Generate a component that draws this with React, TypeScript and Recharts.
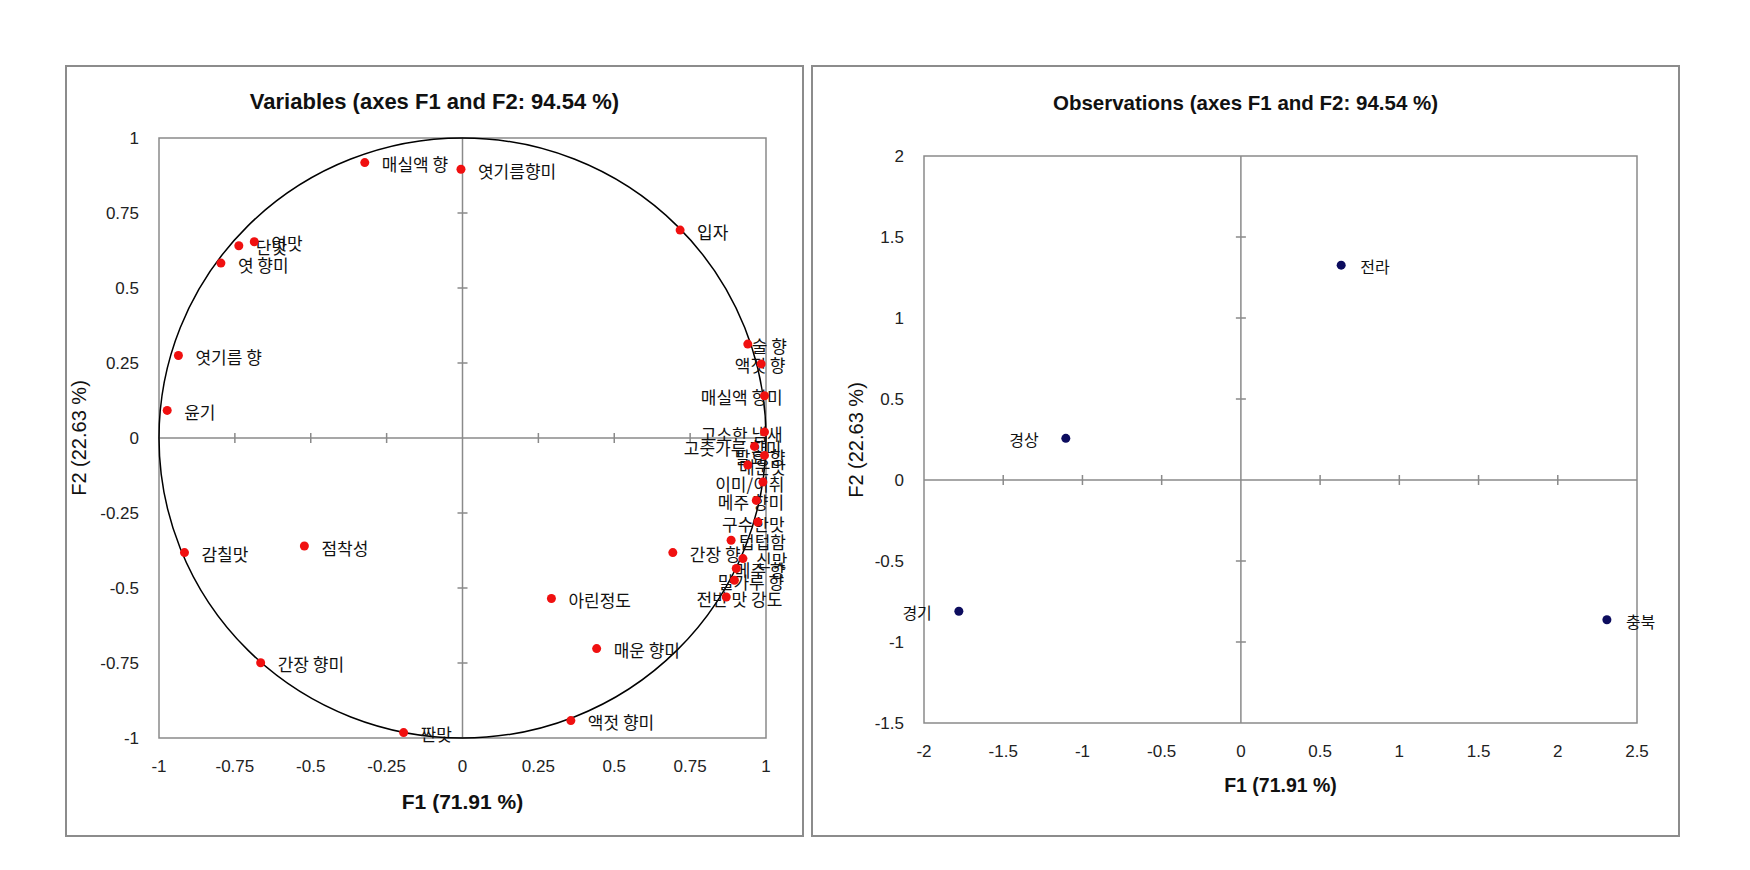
import React from 'react';
import {
  ScatterChart,
  Scatter,
  XAxis,
  YAxis,
  ReferenceLine,
  ReferenceArea,
  ReferenceDot,
} from 'recharts';

/* ---------- data: variables (F1 / F2 loadings) ---------- */

const VAR_NAMES = [
  '매실액 향', '엿기름향미', '입자', '엿맛', '단맛', '엿 향미', '엿기름 향', '윤기',
  '감칠맛', '점착성', '아린정도', '간장 향', '간장 향미', '짠맛', '액젓 향미', '매운 향미',
  '술 향', '액젓 향', '매실액 향미', '고소한 냄새', '고춧가루 향미', '발효 향', '매운맛',
  '이미/이취', '메주 향미', '구수한맛', '텁텁함', '신맛', '메주 향', '밀가루 향', '전반 맛 강도',
];
const VAR_F1 = [
  -0.322, -0.005, 0.717, -0.686, -0.737, -0.796, -0.936, -0.973,
  -0.916, -0.521, 0.293, 0.693, -0.665, -0.194, 0.357, 0.442,
  0.94, 0.984, 0.995, 0.995, 0.962, 0.995, 0.94,
  0.99, 0.968, 0.973, 0.885, 0.924, 0.902, 0.896, 0.869,
];
const VAR_F2 = [
  0.918, 0.896, 0.693, 0.654, 0.641, 0.583, 0.275, 0.092,
  -0.382, -0.36, -0.535, -0.382, -0.749, -0.982, -0.942, -0.702,
  0.313, 0.247, 0.141, 0.02, -0.028, -0.058, -0.09,
  -0.147, -0.208, -0.28, -0.341, -0.402, -0.435, -0.474, -0.53,
];

/* ---------- data: observations (F1 / F2 scores) ---------- */

const OBS_NAMES = ['경기', '경상', '전라', '충북'];
const OBS_F1 = [-1.78, -1.105, 0.633, 2.31];
const OBS_F2 = [-0.81, 0.257, 1.326, -0.863];
const OBS_LEFT_LABELS = ['경기', '경상'];

/* ---------- axes ---------- */

const VAR_TICKS = [-1, -0.75, -0.5, -0.25, 0, 0.25, 0.5, 0.75, 1];
const OBS_X_TICKS = [-2, -1.5, -1, -0.5, 0, 0.5, 1, 1.5, 2, 2.5];
const OBS_Y_TICKS = [-1.5, -1, -0.5, 0, 0.5, 1, 1.5, 2];

const varData = VAR_NAMES.map((name, i) => ({ name, x: VAR_F1[i], y: VAR_F2[i] }));
const obsData = OBS_NAMES.map((name, i) => ({ name, x: OBS_F1[i], y: OBS_F2[i] }));

/* ---------- styles ---------- */

const SANS = "'Liberation Sans', Arial, sans-serif";
const KR = "'Noto Sans CJK KR', 'Noto Sans', sans-serif";
const GRID = '#8a8a8a';
const TICK_PX = 5;
const YAXIS_W = 60;
const XAXIS_H = 40;

// rough text width for label placement (hangul = 1em)
const textWidth = (s: string, fs: number) =>
  [...s].reduce((w, ch) => {
    const c = ch.charCodeAt(0);
    if (c >= 0xac00 && c <= 0xd7a3) return w + fs;
    if (ch === ' ') return w + fs * 0.25;
    return w + fs * 0.4;
  }, 0);

interface Box { left: number; top: number; width: number; height: number }

interface PanelProps {
  box: Box;
  plot: Box; // relative to box
  title: string;
  titleY: number;
  titleSize: number;
  xTitleDy: number;
  yTitleDx: number;
  xTitleSize: number;
  tickSize: number;
  xDomain: [number, number];
  yDomain: [number, number];
  xTicks: number[];
  yTicks: number[];
  data: { name: string; x: number; y: number }[];
  label: (p: any) => React.ReactElement;
  dotColor: string;
  circle?: boolean;
}

function PcaPanel(props: PanelProps) {
  const {
    box, plot, title, titleY, titleSize, xTitleDy, yTitleDx, xTitleSize,
    tickSize, xDomain, yDomain, xTicks, yTicks, data, label, dotColor, circle,
  } = props;

  const unitX = plot.width / (xDomain[1] - xDomain[0]);
  const unitY = plot.height / (yDomain[1] - yDomain[0]);
  const dx = TICK_PX / unitX;
  const dy = TICK_PX / unitY;
  const inner = (v: number, d: [number, number]) => v !== 0 && v > d[0] && v < d[1];

  const plotCx = box.left + plot.left + plot.width / 2;
  const plotCy = box.top + plot.top + plot.height / 2;

  return (
    <>
      <div
        style={{
          position: 'absolute', left: box.left, top: box.top, width: box.width, height: box.height,
          border: '2px solid #8c8c8c', boxSizing: 'border-box',
        }}
      />
      {/* title */}
      <div
        style={{
          position: 'absolute', left: box.left, top: titleY - 15, width: box.width, lineHeight: '30px',
          textAlign: 'center', fontFamily: SANS, fontWeight: 700, fontSize: titleSize, color: '#111',
        }}
      >
        {title}
      </div>
      {/* x title */}
      <div
        style={{
          position: 'absolute', left: plotCx - 150, top: box.top + plot.top + plot.height + xTitleDy - 15,
          width: 300, lineHeight: '30px', textAlign: 'center', fontFamily: SANS, fontWeight: 700,
          fontSize: xTitleSize, color: '#111',
        }}
      >
        F1 (71.91 %)
      </div>
      {/* y title */}
      <div
        style={{
          position: 'absolute', left: box.left + plot.left - yTitleDx - 100, top: plotCy - 15,
          width: 200, lineHeight: '30px', textAlign: 'center', fontFamily: SANS, fontSize: 20,
          color: '#111', transform: 'rotate(-90deg)', transformOrigin: 'center center',
        }}
      >
        F2 (22.63 %)
      </div>

      <div style={{ position: 'absolute', left: box.left, top: box.top }}>
        <ScatterChart
          width={box.width}
          height={box.height}
          margin={{
            top: plot.top,
            left: plot.left - YAXIS_W,
            right: box.width - plot.left - plot.width,
            bottom: box.height - plot.top - plot.height - XAXIS_H,
          }}
        >
          <XAxis
            type="number"
            dataKey="x"
            domain={xDomain}
            ticks={xTicks}
            interval={0}
            height={XAXIS_H}
            axisLine={false}
            tickLine={false}
            tickSize={0}
            tickMargin={0}
            tick={(t: any) => (
              <text
                x={t.x}
                y={t.y + 28.5}
                textAnchor="middle"
                dominantBaseline="central"
                fontFamily={SANS}
                fontSize={tickSize}
                fill="#222"
              >
                {String(t.payload.value)}
              </text>
            )}
          />
          <YAxis
            type="number"
            dataKey="y"
            domain={yDomain}
            ticks={yTicks}
            interval={0}
            width={YAXIS_W}
            axisLine={false}
            tickLine={false}
            tickSize={0}
            tickMargin={0}
            tick={(t: any) => (
              <text
                x={t.x - 20}
                y={t.y}
                textAnchor="end"
                dominantBaseline="central"
                fontFamily={SANS}
                fontSize={tickSize}
                fill="#222"
              >
                {String(t.payload.value)}
              </text>
            )}
          />

          <ReferenceArea
            x1={xDomain[0]} x2={xDomain[1]} y1={yDomain[0]} y2={yDomain[1]}
            fill="none" fillOpacity={0} stroke={GRID} strokeWidth={1.5}
          />
          <ReferenceLine x={0} stroke={GRID} strokeWidth={1.5} />
          <ReferenceLine y={0} stroke={GRID} strokeWidth={1.5} />
          {xTicks.filter(v => inner(v, xDomain)).map(v => (
            <ReferenceLine
              key={`xt${v}`}
              segment={[{ x: v, y: -dy }, { x: v, y: dy }]}
              stroke={GRID}
              strokeWidth={1.5}
            />
          ))}
          {yTicks.filter(v => inner(v, yDomain)).map(v => (
            <ReferenceLine
              key={`yt${v}`}
              segment={[{ x: -dx, y: v }, { x: dx, y: v }]}
              stroke={GRID}
              strokeWidth={1.5}
            />
          ))}

          {circle && (
            <ReferenceDot
              x={0}
              y={0}
              shape={(p: any) => (
                <ellipse
                  cx={p.cx}
                  cy={p.cy}
                  rx={plot.width / 2}
                  ry={plot.height / 2}
                  fill="none"
                  stroke="#000"
                  strokeWidth={1.5}
                />
              )}
            />
          )}

          {/* labels first, dots on top */}
          <Scatter data={data} isAnimationActive={false} shape={label} />
          <Scatter
            data={data}
            isAnimationActive={false}
            shape={(p: any) => <circle cx={p.cx} cy={p.cy} r={4.5} fill={dotColor} />}
          />
        </ScatterChart>
      </div>
    </>
  );
}

/* ---------- layout ---------- */

const LEFT_BOX = { left: 65, top: 65, width: 739, height: 772 };
const LEFT_PLOT = { left: 94, top: 73, width: 607, height: 600 };
const RIGHT_BOX = { left: 811, top: 65, width: 869, height: 772 };
const RIGHT_PLOT = { left: 113, top: 91, width: 713, height: 567 };

const VAR_LABEL_FS = 17;
const VAR_LABEL_LIMIT = LEFT_PLOT.left + LEFT_PLOT.width + 24;
const OBS_LABEL_FS = 16;

const varLabel = (p: any) => {
  const name: string = p.payload.name;
  const w = textWidth(name, VAR_LABEL_FS);
  let lx = p.cx + 17;
  if (lx + w > VAR_LABEL_LIMIT) lx = VAR_LABEL_LIMIT - w;
  return (
    <text
      x={lx}
      y={p.cy + 1}
      dominantBaseline="central"
      fontFamily={KR}
      fontSize={VAR_LABEL_FS}
      fill="#111"
    >
      {name}
    </text>
  );
};

const obsLabel = (p: any) => {
  const name: string = p.payload.name;
  const left = OBS_LEFT_LABELS.includes(name);
  return (
    <text
      x={left ? p.cx - 27 : p.cx + 19}
      y={p.cy + 1}
      textAnchor={left ? 'end' : 'start'}
      dominantBaseline="central"
      fontFamily={KR}
      fontSize={OBS_LABEL_FS}
      fill="#111"
    >
      {name}
    </text>
  );
};

export default function App() {
  return (
    <div
      style={{
        position: 'absolute', left: 0, top: 0, width: 1750, height: 870,
        background: '#fff', overflow: 'hidden',
      }}
    >
      <PcaPanel
        box={LEFT_BOX}
        plot={LEFT_PLOT}
        title="Variables (axes F1 and F2: 94.54 %)"
        titleY={101.7}
        titleSize={22}
        xTitleDy={63.7}
        yTitleDx={80.5}
        xTitleSize={21}
        tickSize={17}
        xDomain={[-1, 1]}
        yDomain={[-1, 1]}
        xTicks={VAR_TICKS}
        yTicks={VAR_TICKS}
        data={varData}
        label={varLabel}
        dotColor="#f01010"
        circle
      />
      <PcaPanel
        box={RIGHT_BOX}
        plot={RIGHT_PLOT}
        title="Observations (axes F1 and F2: 94.54 %)"
        titleY={103.3}
        titleSize={20.5}
        xTitleDy={62}
        yTitleDx={67.7}
        xTitleSize={19.5}
        tickSize={17}
        xDomain={[-2, 2.5]}
        yDomain={[-1.5, 2]}
        xTicks={OBS_X_TICKS}
        yTicks={OBS_Y_TICKS}
        data={obsData}
        label={obsLabel}
        dotColor="#0c0c5e"
      />
    </div>
  );
}
